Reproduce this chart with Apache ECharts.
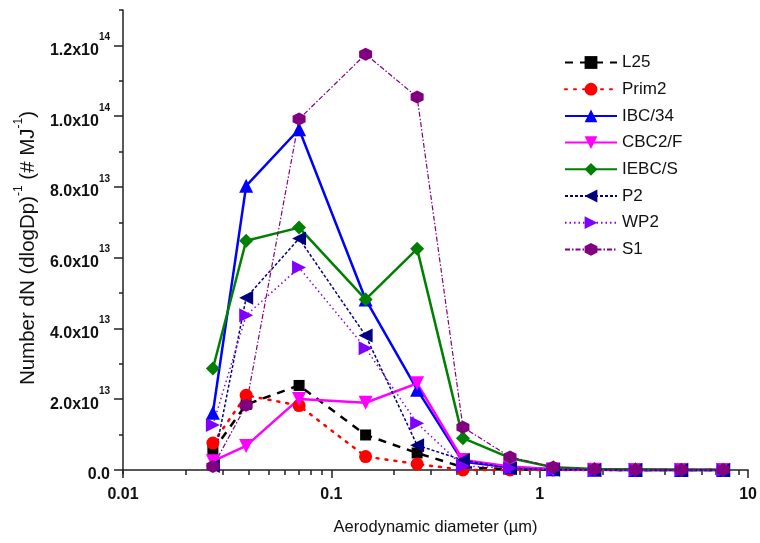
<!DOCTYPE html>
<html>
<head>
<meta charset="utf-8">
<script src="https://cdn.jsdelivr.net/npm/echarts@6/dist/echarts.min.js"></script>
<style>
  html, body { margin: 0; padding: 0; background: #fff; }
  #chart { width: 760px; height: 543px; }
</style>
</head>
<body>
<div id="chart"></div>
<script>
// Aerodynamic diameter of each size bin (µm)
const diameters = [0.027, 0.039, 0.070, 0.146, 0.258, 0.428, 0.72, 1.16, 1.83, 2.88, 4.78, 7.6];

// Number distributions, dN/dlogDp per MJ (units of 1e13)
const L25   = [0.54, 1.85, 2.39, 0.99, 0.48, 0.08, 0.02, 0.01, 0.01, 0.0, 0.0, 0.0];
const Prim2 = [0.76, 2.11, 1.82, 0.38, 0.17, 0.0, 0.0, 0.0, 0.0, 0.0, 0.0, 0.0];
const IBC34 = [1.62, 8.03, 9.63, 4.82, 2.27, 0.23, 0.08, 0.02, 0.01, 0.0, 0.0, 0.0];
const CBC2F = [0.25, 0.68, 2.01, 1.90, 2.45, 0.28, 0.10, 0.02, 0.01, 0.0, 0.0, 0.0];
const IEBCS = [2.87, 6.48, 6.85, 4.82, 6.25, 0.90, 0.34, 0.08, 0.03, 0.02, 0.01, 0.01];
const P2    = [0.11, 4.87, 6.54, 3.80, 0.70, 0.28, 0.05, 0.01, 0.0, 0.0, 0.0, 0.0];
const WP2   = [1.27, 4.37, 5.72, 3.44, 1.32, 0.11, 0.06, 0.01, 0.0, 0.0, 0.0, 0.0];
const S1    = [0.10, 1.83, 9.92, 11.75, 10.54, 1.21, 0.37, 0.08, 0.02, 0.01, 0.01, 0.01];

const SCALE = 1e13;

// Tick positions
const xMajorTicks = [0.01, 0.1, 1, 10];
const xMinorTicks = [0.02, 0.03, 0.04, 0.05, 0.06, 0.07, 0.08, 0.09,
                     0.2, 0.3, 0.4, 0.5, 0.6, 0.7, 0.8, 0.9,
                     2, 3, 4, 5, 6, 7, 8, 9];
const yMajorTicks = [0, 2e13, 4e13, 6e13, 8e13, 1e14, 1.2e14];
const yMinorTicks = [1e13, 3e13, 5e13, 7e13, 9e13, 1.1e14, 1.3e14];
const yTickLabels = ['0.0', '2.0x10|13', '4.0x10|13', '6.0x10|13', '8.0x10|13', '1.0x10|14', '1.2x10|14'];

const HEX = 'path://M0,-1L0.866,-0.5L0.866,0.5L0,1L-0.866,0.5L-0.866,-0.5Z';

const seriesDefs = [
  { name: 'L25',    data: L25,   color: '#000000', width: 2.5, type: [8, 7],          symbol: 'rect',     size: 11, rotate: 0 },
  { name: 'Prim2',  data: Prim2, color: '#FF0000', width: 2.5, type: [2, 7],          symbol: 'circle',   size: 13, rotate: 0, cap: 'round' },
  { name: 'IBC/34', data: IBC34, color: '#0000FF', width: 2.5, type: 'solid',         symbol: 'triangle', size: 14, rotate: 0 },
  { name: 'CBC2/F', data: CBC2F, color: '#FF00FF', width: 2.5, type: 'solid',         symbol: 'triangle', size: 14, rotate: 180 },
  { name: 'IEBC/S', data: IEBCS, color: '#008000', width: 2.5, type: 'solid',         symbol: 'diamond',  size: 14, rotate: 0 },
  { name: 'P2',     data: P2,    color: '#000080', width: 1.5, type: [3, 2],          symbol: 'triangle', size: 14, rotate: 90 },
  { name: 'WP2',    data: WP2,   color: '#8000FF', width: 1.5, type: [1.5, 3],        symbol: 'triangle', size: 14, rotate: -90 },
  { name: 'S1',     data: S1,    color: '#800080', width: 1.2, type: [5, 2, 1.5, 2],  symbol: HEX,        size: 13, rotate: 0 }
];

const chart = echarts.init(document.getElementById('chart'), null, { renderer: 'canvas' });

const axisColor = '#222';
const labelFont = 'Liberation Sans, Arial, sans-serif';

const option = {
  animation: false,
  backgroundColor: '#fff',
  grid: { left: 123, right: 11, top: 10, bottom: 69, containLabel: false },
  legend: {
    orient: 'vertical',
    left: 559,
    top: 49,
    itemWidth: 52,
    itemHeight: 16,
    itemGap: 9.7,
    textStyle: { fontFamily: labelFont, fontSize: 17, color: '#111' },
    data: seriesDefs.map(s => s.name)
  },
  xAxis: [
    {
      type: 'log', logBase: 10, min: 0.01, max: 10,
      position: 'bottom',
      name: 'Aerodynamic diameter (µm)',
      nameLocation: 'middle', nameGap: 45,
      nameTextStyle: { fontFamily: labelFont, fontSize: 16.5, color: '#111' },
      axisLine: { show: true, lineStyle: { color: axisColor, width: 1.5 } },
      axisTick: { show: true, inside: false, length: 8, customValues: xMajorTicks, lineStyle: { color: axisColor, width: 1.5 } },
      axisLabel: {
        customValues: xMajorTicks,
        margin: 13,
        fontFamily: labelFont, fontSize: 16, fontWeight: 'bold', color: '#111',
        formatter: v => String(+v.toPrecision(3))
      },
      splitLine: { show: false }
    },
    {
      type: 'log', logBase: 10, min: 0.01, max: 10,
      position: 'bottom',
      axisLine: { show: false },
      axisTick: { show: true, inside: false, length: 5, customValues: xMinorTicks, lineStyle: { color: axisColor, width: 1.5 } },
      axisLabel: { show: false },
      splitLine: { show: false }
    }
  ],
  yAxis: [
    {
      type: 'value', min: -1.13e12, max: 1.3e14,
      name: '{t|Number dN (dlogDp)}{s|-1}{t| (# MJ}{s|-1}{t|)}',
      nameLocation: 'middle', nameGap: 84, nameRotate: 90,
      nameTextStyle: {
        padding: [0, 12, 0, 0],
        rich: {
          t: { fontFamily: labelFont, fontSize: 20.5, color: '#111', verticalAlign: 'bottom', lineHeight: 26 },
          s: { fontFamily: labelFont, fontSize: 12, color: '#111', verticalAlign: 'top', lineHeight: 26 }
        }
      },
      axisLine: { show: true, lineStyle: { color: axisColor, width: 1.5 } },
      axisTick: { show: true, inside: false, length: 9, customValues: yMajorTicks, lineStyle: { color: axisColor, width: 1.5 } },
      axisLabel: {
        customValues: yMajorTicks,
        margin: 13,
        formatter: v => {
          const idx = yMajorTicks.findIndex(t => Math.abs(t - v) < 1e9);
          const lab = idx >= 0 ? yTickLabels[idx] : '';
          const parts = lab.split('|');
          return parts.length === 2 ? '{b|' + parts[0] + '}{s|' + parts[1] + '}' : '{b|' + parts[0] + '}';
        },
        rich: {
          b: { fontFamily: labelFont, fontSize: 16, fontWeight: 'bold', color: '#111', verticalAlign: 'bottom', lineHeight: 26 },
          s: { fontFamily: labelFont, fontSize: 10, fontWeight: 'bold', color: '#111', verticalAlign: 'top', lineHeight: 26 }
        }
      },
      splitLine: { show: false }
    },
    {
      type: 'value', min: -1.13e12, max: 1.3e14,
      position: 'left',
      axisLine: { show: false },
      axisTick: { show: true, inside: false, length: 4, customValues: yMinorTicks, lineStyle: { color: axisColor, width: 1.5 } },
      axisLabel: { show: false },
      splitLine: { show: false }
    }
  ],
  series: seriesDefs.map(s => ({
    name: s.name,
    type: 'line',
    xAxisIndex: 0,
    yAxisIndex: 0,
    data: s.data.map((v, i) => [diameters[i], v * SCALE]),
    symbol: s.symbol,
    symbolSize: s.size,
    symbolRotate: s.rotate,
    showAllSymbol: true,
    color: s.color,
    itemStyle: { color: s.color },
    lineStyle: { color: s.color, width: s.width, type: s.type, cap: s.cap || 'butt' },
    emphasis: { disabled: true }
  }))
};

chart.setOption(option);
</script>
</body>
</html>
